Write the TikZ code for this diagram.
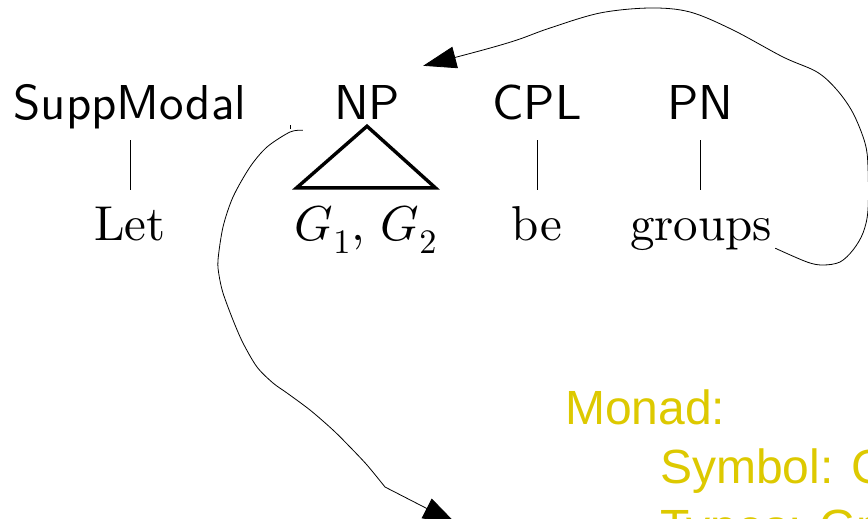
\documentclass[tikz,border=0pt]{standalone}
\usepackage{fontspec}
\usetikzlibrary{arrows.meta}
% let the Computer Modern math fonts scale freely
\DeclareFontShape{OML}{cmm}{m}{it}{<->cmmi10}{}
\DeclareFontShape{OT1}{cmr}{m}{n}{<->cmr10}{}
% 10pt designs of Latin Modern, scaled up
\newfontfamily\wordfont{lmroman10-regular}[Extension=.otf]
\newfontfamily\catfont{lmsans10-regular}[Extension=.otf]
\newfontfamily\notefont{Liberation Sans}
\definecolor{notegold}{RGB}{221,201,0}
\begin{document}
\begin{tikzpicture}[x=1pt,y=-1pt,
  cat/.style={font=\fontsize{49}{58}\selectfont\catfont, inner sep=0pt, anchor=base,
              text height=35pt, text depth=6pt},
  word/.style={font=\fontsize{49}{58}\selectfont\wordfont, inner sep=0pt, anchor=base,
               text height=35pt, text depth=10pt},
  branch/.style={line width=0.9pt, shorten <=14pt, shorten >=15pt},
  roof/.style={line width=3.4pt, line join=miter},
  link/.style={line width=0.8pt, -{Triangle[length=33pt,width=22pt]}},
  note/.style={font=\fontsize{48}{59}\selectfont\notefont, text=notegold, inner sep=0pt,
               anchor=base west}]
\useasboundingbox (0,0) rectangle (868,519);
\clip (0,0) rectangle (868,519);

% categories
\node[cat] (sm) at (130,120) {SuppModal};
\node[cat] (np) at (367,120) {NP};
\node[cat] (cpl) at (537,120) {CPL};
\node[cat] (pn) at (700,120) {PN};

% words
\node[word] (let) at (130,240) {Let};
\node[word] (g12) at (366,240) {$G_1$, $G_2$};
\node[word] (be) at (537,240) {be};
\node[word] (gr) at (701,240) {groups};

% branches
\draw[branch] (sm.south) -- (let.north);
\draw[branch] (cpl.south) -- (be.north);
\draw[branch] (pn.south) -- (pn.south |- gr.north);
\draw[roof] (np.south) -- ([shift={(-2pt,17pt)}]g12.north east)
  -- ([shift={(2pt,17pt)}]g12.north west) -- cycle;

% annotation
\node[note] (monad) at (565,424) {Monad:};
\node[note] (sym) at (660,483) {Symbol: G};
\node[note] (typ) at (660,543) {Types: Gr};

% connector ends
\coordinate (grout) at ([shift={(3pt,2pt)}]gr.south east);
\coordinate (npin) at ([shift={(23pt,19pt)}]np.north east);
\coordinate (npout) at ([shift={(-31pt,-4pt)}]np.south west);
\coordinate (monadin) at (456,523.5);

% groups -> NP
\draw[link] plot[smooth, tension=0.55] coordinates {
  (grout) (807,262) (823,265) (840,262) (853,250) (863,233) (868,210)
  (868,167) (865,143) (853,113) (837,90) (817,72) (783,57) (733,30)
  (690,12) (650,8) (600,13) (550,28) (517,40) (483,50) (npin)};

% NP -> monad
\draw[line width=0.8pt] ([shift={(-12pt,5pt)}]npout) -- ++(0pt,-4pt);
\draw[link] plot[smooth, tension=0.5] coordinates {
  (npout) (290,132) (267,147) (250,167) (233,197) (223,227) (218,260)
  (219,275) (223,293) (233,320) (243,343) (257,367) (273,383) (287,393)
  (310,410) (333,430) (350,447) (367,465) (385,487)} -- (monadin);
\end{tikzpicture}
\end{document}
